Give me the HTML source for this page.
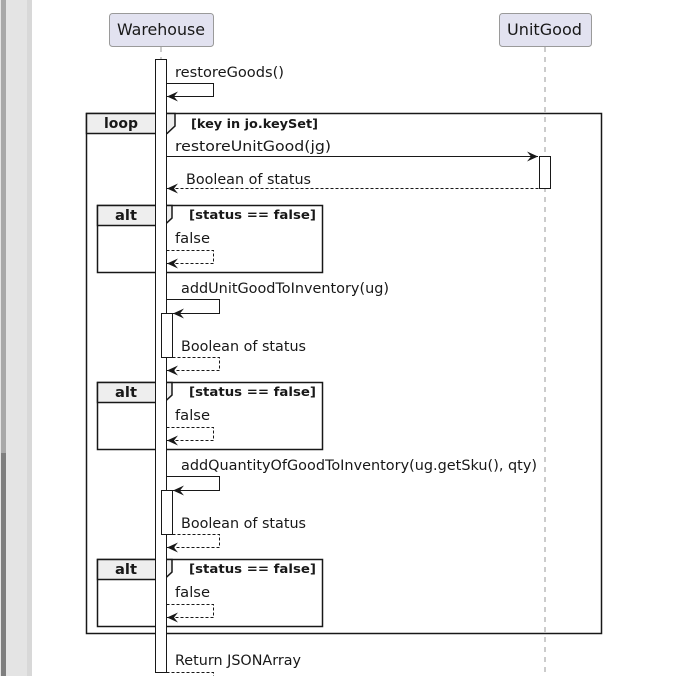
<!DOCTYPE html>
<html><head><meta charset="utf-8"><style>
html,body{margin:0;padding:0;background:#fff;}
svg{display:block;}
text{font-family:"DejaVu Sans","Liberation Sans",sans-serif;}
</style></head><body>
<svg width="692" height="676" viewBox="0 0 692 676" xmlns="http://www.w3.org/2000/svg">
<defs>
<marker id="a" markerWidth="12" markerHeight="10" refX="11" refY="5" orient="auto" markerUnits="userSpaceOnUse">
<path d="M0,0 L11,5 L0,10 L4,5 Z" fill="#181818"/></marker>
</defs>
<rect x="0" y="0" width="32" height="676" fill="#e4e4e4"/>
<rect x="1" y="0" width="5" height="453" fill="#a8a8a8"/>
<rect x="1" y="453" width="5" height="223" fill="#7e7e7e"/>
<rect x="27" y="0" width="5" height="676" fill="#d8d8d8"/>

<rect x="109.5" y="13.5" width="104" height="33" rx="3" fill="#e2e2f0" stroke="#9a9a9a"/>
<text x="117" y="35" font-size="16" textLength="88" lengthAdjust="spacingAndGlyphs" fill="#181818">Warehouse</text>
<rect x="499.5" y="13.5" width="92" height="33" rx="3" fill="#e2e2f0" stroke="#9a9a9a"/>
<text x="507" y="35" font-size="16" textLength="75" lengthAdjust="spacingAndGlyphs" fill="#181818">UnitGood</text>
<line x1="161" y1="47" x2="161" y2="676" stroke="#999" stroke-dasharray="5,5"/>
<line x1="545" y1="47" x2="545" y2="676" stroke="#999" stroke-dasharray="5,5"/>

<rect x="86.5" y="113.5" width="515" height="520" fill="none" stroke="#181818" stroke-width="1.5"/>
<path d="M86.5,113.5 H175 V126 L167,133.5 H86.5 Z" fill="#eee" stroke="#181818" stroke-width="1.5"/>
<text x="104" y="128" font-size="14" font-weight="bold" textLength="34" lengthAdjust="spacingAndGlyphs" fill="#181818">loop</text>
<text x="191" y="128" font-size="12" font-weight="bold" textLength="127" lengthAdjust="spacingAndGlyphs" fill="#181818">[key in jo.keySet]</text>

<g font-weight="bold" fill="#181818">
<rect x="97.5" y="205.5" width="225" height="67" fill="none" stroke="#181818" stroke-width="1.5"/>
<path d="M97.5,205.5 H172 V218 L164,225.5 H97.5 Z" fill="#eee" stroke="#181818" stroke-width="1.5"/>
<text x="115" y="220" font-size="14" textLength="22" lengthAdjust="spacingAndGlyphs">alt</text>
<text x="189" y="219" font-size="12" textLength="127" lengthAdjust="spacingAndGlyphs">[status == false]</text>
<rect x="97.5" y="382.5" width="225" height="67" fill="none" stroke="#181818" stroke-width="1.5"/>
<path d="M97.5,382.5 H172 V395 L164,402.5 H97.5 Z" fill="#eee" stroke="#181818" stroke-width="1.5"/>
<text x="115" y="397" font-size="14" textLength="22" lengthAdjust="spacingAndGlyphs">alt</text>
<text x="189" y="396" font-size="12" textLength="127" lengthAdjust="spacingAndGlyphs">[status == false]</text>
<rect x="97.5" y="559.5" width="225" height="67" fill="none" stroke="#181818" stroke-width="1.5"/>
<path d="M97.5,559.5 H172 V572 L164,579.5 H97.5 Z" fill="#eee" stroke="#181818" stroke-width="1.5"/>
<text x="115" y="574" font-size="14" textLength="22" lengthAdjust="spacingAndGlyphs">alt</text>
<text x="189" y="573" font-size="12" textLength="127" lengthAdjust="spacingAndGlyphs">[status == false]</text>
</g>

<rect x="155.5" y="59.5" width="11" height="613" fill="#fff" stroke="#181818"/>
<rect x="539.5" y="156.5" width="11" height="32" fill="#fff" stroke="#181818"/>
<rect x="161.5" y="313.5" width="11" height="44" fill="#fff" stroke="#181818"/>
<rect x="161.5" y="490.5" width="11" height="44" fill="#fff" stroke="#181818"/>

<g font-size="14" fill="#181818">
<text x="175" y="77" textLength="109" lengthAdjust="spacingAndGlyphs">restoreGoods()</text>
<text x="175" y="151" textLength="156" lengthAdjust="spacingAndGlyphs">restoreUnitGood(jg)</text>
<text x="186" y="184" textLength="125" lengthAdjust="spacingAndGlyphs">Boolean of status</text>
<text x="175" y="243" textLength="35" lengthAdjust="spacingAndGlyphs">false</text>
<text x="181" y="293" textLength="208" lengthAdjust="spacingAndGlyphs">addUnitGoodToInventory(ug)</text>
<text x="181" y="351" textLength="125" lengthAdjust="spacingAndGlyphs">Boolean of status</text>
<text x="175" y="420" textLength="35" lengthAdjust="spacingAndGlyphs">false</text>
<text x="181" y="470" textLength="356" lengthAdjust="spacingAndGlyphs">addQuantityOfGoodToInventory(ug.getSku(), qty)</text>
<text x="181" y="528" textLength="125" lengthAdjust="spacingAndGlyphs">Boolean of status</text>
<text x="175" y="597" textLength="35" lengthAdjust="spacingAndGlyphs">false</text>
<text x="175" y="665" textLength="126" lengthAdjust="spacingAndGlyphs">Return JSONArray</text>
</g>

<g fill="none" stroke="#181818">
<path d="M166.5,83.5 H213.5 V96.5 H167" marker-end="url(#a)"/>
<path d="M166.5,156.5 H538" marker-end="url(#a)"/>
<path d="M538.5,188.5 H167" stroke-dasharray="3,2" marker-end="url(#a)"/>
<path d="M166.5,250.5 H213.5 V263.5 H167" stroke-dasharray="3,2" marker-end="url(#a)"/>
<path d="M166.5,299.5 H219.5 V313.5 H173" marker-end="url(#a)"/>
<path d="M172.5,357.5 H219.5 V370.5 H167" stroke-dasharray="3,2" marker-end="url(#a)"/>
<path d="M166.5,427.5 H213.5 V440.5 H167" stroke-dasharray="3,2" marker-end="url(#a)"/>
<path d="M166.5,476.5 H219.5 V490.5 H173" marker-end="url(#a)"/>
<path d="M172.5,534.5 H219.5 V547.5 H167" stroke-dasharray="3,2" marker-end="url(#a)"/>
<path d="M166.5,604.5 H213.5 V617.5 H167" stroke-dasharray="3,2" marker-end="url(#a)"/>
<path d="M166.5,672.5 H213.5 V680" stroke-dasharray="3,2"/>
</g>
</svg>
</body></html>
